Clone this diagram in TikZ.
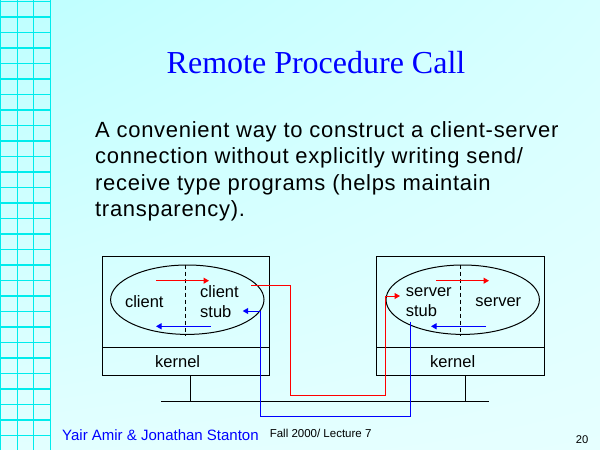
\documentclass[tikz,border=0pt]{standalone}
\usepackage{fontspec}
\setmainfont{Liberation Sans}
\newfontfamily\titlefont{Liberation Serif}
\newfontfamily\bodyfont[LetterSpace=3.2]{Liberation Sans}
\usetikzlibrary{arrows.meta,shapes.geometric,shadings}
\definecolor{bgUL}{RGB}{190,255,255}
\definecolor{bgUR}{RGB}{215,255,255}
\definecolor{bgLL}{RGB}{226,255,255}
\definecolor{bgLR}{RGB}{230,255,255}
\definecolor{gridline}{RGB}{0,236,236}
\definecolor{pblue}{RGB}{0,0,255}
\definecolor{pred}{RGB}{255,0,0}
\tikzset{
  ln/.style={line width=1pt, draw=black},
  boxnode/.style={ln, rectangle, inner sep=0pt, anchor=north west},
  oval/.style={ln, ellipse, inner sep=0pt, minimum width=153.4pt, minimum height=69.4pt},
  lbl/.style={inner sep=0pt, font=\fontsize{16.5}{20}\selectfont, align=left},
  redarrow/.style={draw=pred, line width=1pt, -{Triangle[length=5.5pt,width=6pt]}},
  bluearrow/.style={draw=pblue, line width=1pt, -{Triangle[length=5.5pt,width=6pt]}},
  dashsep/.style={line width=1pt, dash pattern=on 4pt off 3pt}
}
\begin{document}
\begin{tikzpicture}[x=1pt,y=-1pt]
\useasboundingbox (0,0) rectangle (600,450);
\shade[upper left=bgUL, upper right=bgUR, lower left=bgLL, lower right=bgLR] (0,0) rectangle (600,450);
\foreach \x in {0.5,17.5,33.5,50.5} \draw[gridline, line width=1.4pt] (\x,0) -- (\x,450);
\foreach \k in {0,...,28} \draw[gridline, line width=1.4pt] (0,1.5+15.5*\k) -- (50.5,1.5+15.5*\k);

% title
\node[font=\titlefont\fontsize{32}{38}\selectfont, text=pblue, anchor=base, inner sep=0pt] (title) at (316,73.3) {Remote Procedure Call};

% body
\node[anchor=north west, inner sep=0pt, align=left, font=\bodyfont\fontsize{22}{26.3}\selectfont] (body) at (95,121.5)
 {A convenient way to construct a client-server\\connection without explicitly writing send/\\receive type programs (helps maintain\\transparency).};

% left host
\node[boxnode, minimum width=167.6pt, minimum height=90.7pt] (hostL) at (101.7,256) {};
\node[boxnode, minimum width=167.6pt, minimum height=28.6pt] (kerL) at (101.7,346.7) {};
\node[lbl] (kerLt) at (177.7,361.7) {kernel};
\node[oval] (ellL) at (187.3,299.7) {};
\draw[dashsep] (ellL.north -| 185.7,0) -- (ellL.south -| 185.7,0);
\node[lbl] (client) at (144.3,301.7) {client};
\node[lbl, anchor=west] (cstub) at (200,301.7) {client\\stub};
\coordinate (la1) at (156,280.7); \coordinate (la2) at (209,280.7);
\coordinate (lb1) at (210.7,326.3); \coordinate (lb2) at (156,326.3);
\draw[redarrow] (la1) -- (la2);
\draw[bluearrow] (lb1) -- (lb2);

% right host
\node[boxnode, minimum width=168pt, minimum height=90.7pt] (hostR) at (376.3,256) {};
\node[boxnode, minimum width=168pt, minimum height=28.6pt] (kerR) at (376.3,346.7) {};
\node[lbl] (kerRt) at (452.7,361.7) {kernel};
\node[oval] (ellR) at (462.7,299.7) {};
\draw[dashsep] (ellR.north -| 460.3,0) -- (ellR.south -| 460.3,0);
\node[lbl, anchor=west] (sstub) at (405.7,301.7) {server\\stub};
\node[lbl] (server) at (498.3,301.7) {server};
\coordinate (ra1) at (436,280.7); \coordinate (ra2) at (489,280.7);
\coordinate (rb1) at (486,326.3); \coordinate (rb2) at (431,326.3);
\draw[redarrow] (ra1) -- (ra2);
\draw[bluearrow] (rb1) -- (rb2);

% network bus
\coordinate (busL) at (161,401);
\coordinate (busR) at (489.3,401);
\draw[ln] (busL) -- (busR);
\draw[ln] ([xshift=4.8pt]kerL.south) -- ([xshift=4.8pt]kerL.south |- busL);
\draw[ln] ([xshift=5pt]kerR.south) -- ([xshift=5pt]kerR.south |- busR);

% RPC request path (red)
\coordinate (reqS) at (251,285);
\coordinate (reqE) at (400,296);
\draw[redarrow] (reqS) -- (290,285) -- (290,395.7) -- (385.3,395.7) -- (385.3,296) -- (reqE);
% RPC reply path (blue)
\coordinate (repS) at (410.7,321.7);
\coordinate (repE) at (242.7,311);
\draw[bluearrow] (repS) -- (410.7,416) -- (260.7,416) -- (260.7,311) -- (repE);

% footer
\node[anchor=base west, inner sep=0pt, font=\fontsize{15}{18}\selectfont, text=pblue] (auth) at (62,440) {Yair Amir \& Jonathan Stanton};
\node[anchor=base west, inner sep=0pt, font=\fontsize{11.5}{14}\selectfont] (lect) at (269.6,437.5) {Fall 2000/ Lecture 7};
\node[anchor=base west, inner sep=0pt, font=\fontsize{11.2}{14}\selectfont] (pg) at (575.7,443.6) {20};
\end{tikzpicture}
\end{document}
